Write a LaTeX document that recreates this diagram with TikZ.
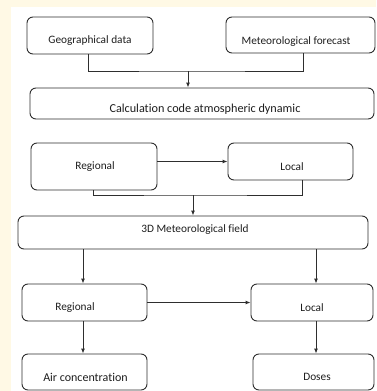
\documentclass[tikz,border=0pt]{standalone}
\usepackage{fontspec}
\setmainfont[Ligatures=NoCommon]{Carlito}
\usetikzlibrary{arrows.meta,calc}
\definecolor{cream}{HTML}{FFF9E5}
\definecolor{linecol}{HTML}{2E2E2E}
\definecolor{textcol}{HTML}{1E1E1E}
\tikzset{
  box/.style={draw=linecol, line width=0.9pt, rounded corners=6pt, fill=white, inner sep=0pt},
  lbl/.style={font=\fontsize{11.3}{13}\selectfont, text=textcol, inner sep=0pt},
  conn/.style={draw=linecol, line width=0.9pt},
  arr/.style={conn, -{Latex[length=5pt,width=4pt]}}
}
\begin{document}
\begin{tikzpicture}[x=1pt,y=-1pt]
  % page and white panel
  \fill[cream] (0,0) rectangle (376,391);
  \fill[white] (11,7) rectangle (376,391);
  \clip (0,0) rectangle (376,391);
  \useasboundingbox (0,0) rectangle (376,391);

  % inputs
  \node[box, minimum width=126pt, minimum height=37pt] (geo) at (90,35.5) {};
  \node[lbl] (geoT) at (90,41) {Geographical data};
  \node[box, minimum width=149pt, minimum height=36pt] (met) at (300.5,35) {};
  \node[lbl] (metT) at (296,42) {Meteorological forecast};

  % dynamics code
  \node[box, minimum width=344pt, minimum height=31pt] (calc) at (202,103.5) {};
  \node[lbl, font=\fontsize{12.2}{14}\selectfont] (calcT) at (205,109) {Calculation code atmospheric dynamic};

  % meteorological scales
  \node[box, minimum width=126pt, minimum height=47pt] (regA) at (94,166.5) {};
  \node[lbl] (regAT) at (95,167) {Regional};
  \node[box, minimum width=125pt, minimum height=37pt] (locA) at (290.5,161.5) {};
  \node[lbl] (locAT) at (292,167) {Local};

  % 3D field
  \node[box, minimum width=350pt, minimum height=33pt] (fld) at (193,232.5) {};
  \node[lbl] (fldT) at (195,230) {3D Meteorological field};

  % dispersion scales
  \node[box, minimum width=125pt, minimum height=37pt] (regB) at (84.5,302.5) {};
  \node[lbl] (regBT) at (75,308) {Regional};
  \node[box, minimum width=122pt, minimum height=37pt] (locB) at (312,302.5) {};
  \node[lbl] (locBT) at (312,308) {Local};

  % outputs
  \node[box, minimum width=125pt, minimum height=36pt] (air) at (84.5,372) {};
  \node[lbl, font=\fontsize{12}{14}\selectfont] (airT) at (85.5,377) {Air concentration};
  \node[box, minimum width=121pt, minimum height=36pt] (dose) at (313.5,372) {};
  \node[lbl] (doseT) at (317,377) {Doses};

  % junctions
  \coordinate (j1) at (188,71);
  \coordinate (j2) at (193,195);

  % inputs -> code
  \draw[conn] ($(geo.south)+(-2,0)$) |- (j1) -| ($(met.south)+(2.5,0)$);
  \draw[arr] (j1) -- (j1 |- calc.north);

  % regional -> local, both -> field
  \draw[arr] (regA.east |- locA.west) -- (locA.west);
  \draw[conn] ($(regA.south)+(-1,0)$) |- (j2) -| ($(locA.south)+(11.5,0)$);
  \draw[arr] (j2) -- (j2 |- fld.north);

  % field -> dispersion scales
  \draw[arr] ($(fld.south)+(-110,0)$) -- ($(regB.north)+(-1.5,0)$);
  \draw[arr] ($(fld.south)+(123,0)$) -- ($(locB.north)+(4,0)$);
  \draw[arr] (regB.east |- regB.center) -- (locB.west |- regB.center);

  % dispersion -> outputs
  \draw[arr] ($(regB.south)+(-1.5,0)$) -- ($(air.north)+(-1.5,0)$);
  \draw[arr] ($(locB.south)+(4,0)$) -- ($(dose.north)+(2.5,0)$);
\end{tikzpicture}
\end{document}
